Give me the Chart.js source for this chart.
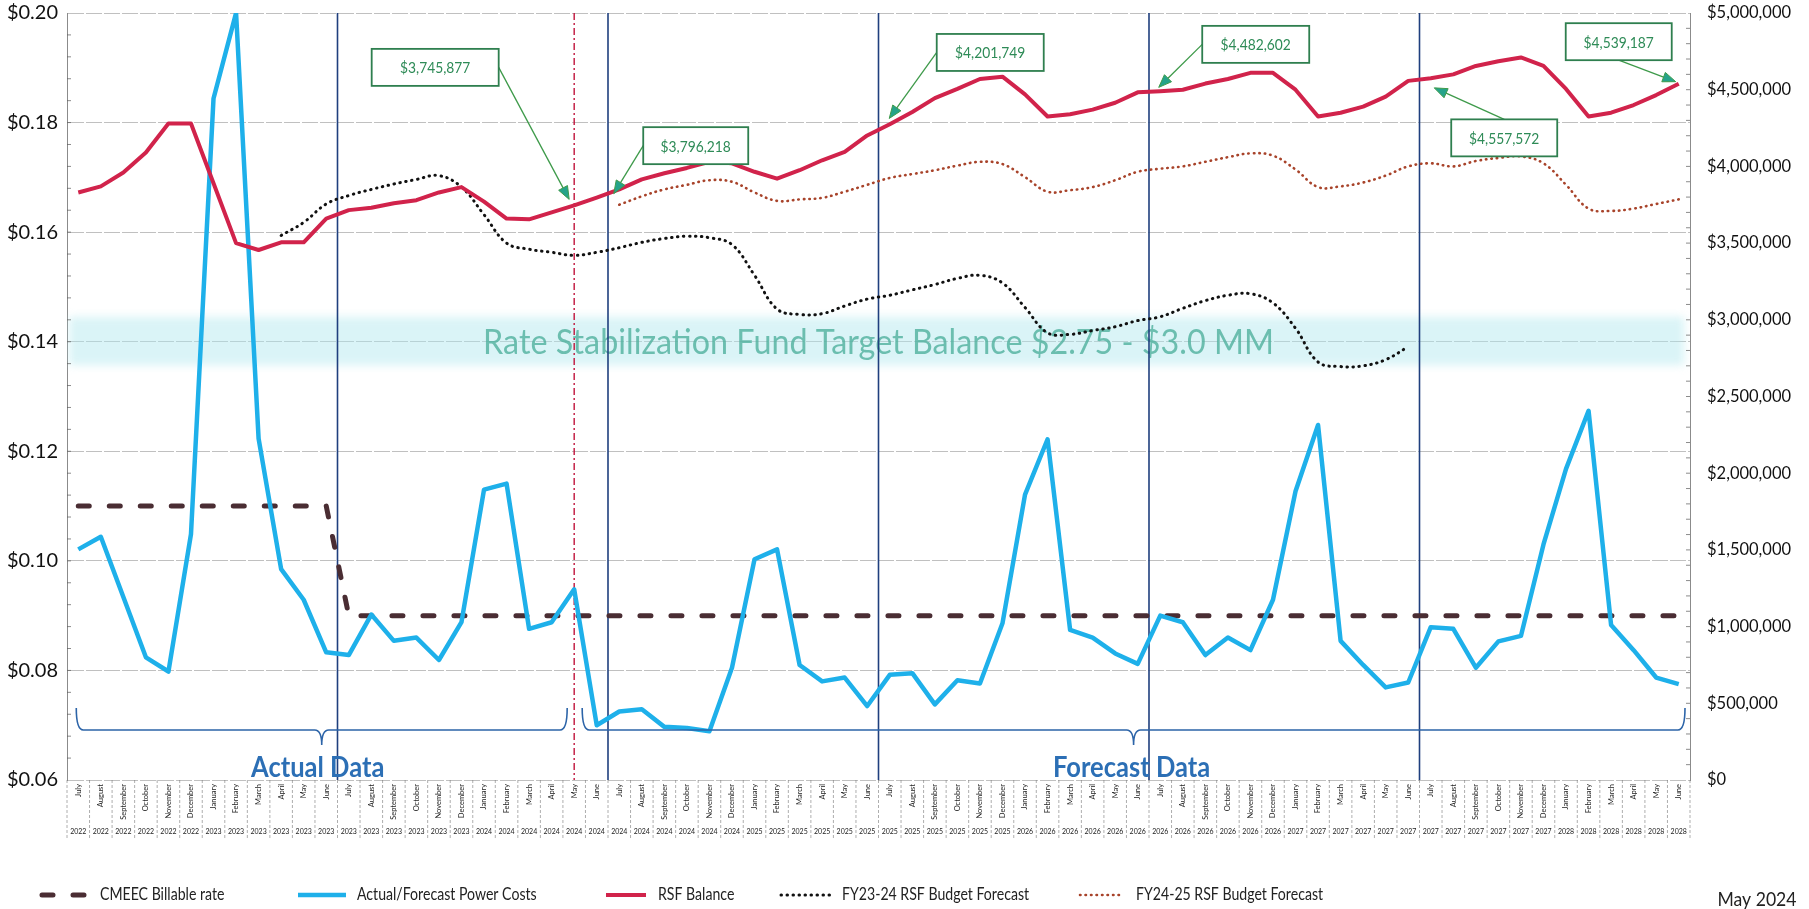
<!DOCTYPE html>
<html>
<head>
<meta charset="utf-8">
<title>Rate Stabilization Fund Balance</title>
<script src="https://cdn.jsdelivr.net/npm/chart.js@4.4.1/dist/chart.umd.min.js"></script>
<style>
  html, body { margin: 0; padding: 0; background: #ffffff; }
  #wrap { width: 1809px; height: 909px; position: relative; }
  canvas { display: block; }
</style>
</head>
<body>
<div id="wrap"><canvas id="chart" width="1809" height="909"></canvas></div>
<script>
// ---- Categories: fiscal-year months, July 2022 .. June 2028 ----
const monthLabels = [
  'July','August','September','October','November','December','January','February','March','April','May','June',
  'July','August','September','October','November','December','January','February','March','April','May','June',
  'July','August','September','October','November','December','January','February','March','April','May','June',
  'July','August','September','October','November','December','January','February','March','April','May','June',
  'July','August','September','October','November','December','January','February','March','April','May','June',
  'July','August','September','October','November','December','January','February','March','April','May','June'
];
const yearLabels = [
  '2022','2022','2022','2022','2022','2022','2023','2023','2023','2023','2023','2023',
  '2023','2023','2023','2023','2023','2023','2024','2024','2024','2024','2024','2024',
  '2024','2024','2024','2024','2024','2024','2025','2025','2025','2025','2025','2025',
  '2025','2025','2025','2025','2025','2025','2026','2026','2026','2026','2026','2026',
  '2026','2026','2026','2026','2026','2026','2027','2027','2027','2027','2027','2027',
  '2027','2027','2027','2027','2027','2027','2028','2028','2028','2028','2028','2028'
];

// ---- Series ($/kWh on the left axis) ----
const billableRate = [
  0.11,0.11,0.11,0.11,0.11,0.11,0.11,0.11,0.11,0.11,0.11,0.11,
  0.09,0.09,0.09,0.09,0.09,0.09,0.09,0.09,0.09,0.09,0.09,0.09,
  0.09,0.09,0.09,0.09,0.09,0.09,0.09,0.09,0.09,0.09,0.09,0.09,
  0.09,0.09,0.09,0.09,0.09,0.09,0.09,0.09,0.09,0.09,0.09,0.09,
  0.09,0.09,0.09,0.09,0.09,0.09,0.09,0.09,0.09,0.09,0.09,0.09,
  0.09,0.09,0.09,0.09,0.09,0.09,0.09,0.09,0.09,0.09,0.09,0.09
];
const powerCosts = [
  0.1021,0.1044,0.0934,0.0824,0.0798,0.1049,0.1844,0.2000,0.1223,0.0985,0.0929,0.0833,
  0.0828,0.0902,0.0854,0.0860,0.0819,0.0888,0.1130,0.1141,0.0876,0.0888,0.0948,0.0700,
  0.0725,0.0729,0.0697,0.0695,0.0689,0.0805,0.1003,0.1021,0.0810,0.0780,0.0787,0.0735,
  0.0792,0.0795,0.0738,0.0782,0.0776,0.0886,0.1121,0.1222,0.0874,0.0860,0.0831,0.0812,
  0.0900,0.0888,0.0828,0.0860,0.0837,0.0929,0.1127,0.1248,0.0854,0.0810,0.0769,0.0778,
  0.0879,0.0876,0.0805,0.0853,0.0863,0.1030,0.1168,0.1274,0.0883,0.0837,0.0787,0.0775
];

// ---- Series ($ on the right axis) ----
const rsfBalance = [
  3830000,3870000,3960000,4090000,4280000,4280000,3890000,3500000,3455000,3505000,3505000,3660000,
  3715000,3730000,3760000,3780000,3830000,3865000,3770000,3660000,3655000,3700000,3745877,3796218,
  3850000,3915000,3955000,3990000,4030000,4020000,3965000,3920000,3975000,4040000,4095000,4201749,
  4275000,4355000,4445000,4505000,4570000,4585000,4470000,4325000,4340000,4370000,4415000,4482602,
  4490000,4500000,4540000,4570000,4610000,4610000,4500000,4325000,4350000,4390000,4455000,4557572,
  4575000,4600000,4655000,4685000,4710000,4655000,4505000,4325000,4350000,4400000,4465000,4539187
];
const fy2324Forecast = [
  null,null,null,null,null,null,null,null,null,3550000,3635000,3755000,
  3810000,3850000,3885000,3915000,3940000,3865000,3685000,3500000,3460000,3440000,3420000,3440000,
  3470000,3505000,3530000,3545000,3535000,3490000,3290000,3070000,3035000,3040000,3090000,3135000,
  3160000,3195000,3230000,3270000,3290000,3240000,3080000,2915000,2905000,2930000,2955000,2995000,
  3020000,3075000,3125000,3160000,3170000,3110000,2945000,2725000,2695000,2700000,2740000,2825000,
  null,null,null,null,null,null,null,null,null,null,null,null
];
const fy2425Forecast = [
  null,null,null,null,null,null,null,null,null,null,null,null,
  null,null,null,null,null,null,null,null,null,null,null,null,
  3750000,3805000,3850000,3880000,3910000,3900000,3830000,3775000,3785000,3795000,3835000,3880000,
  3925000,3950000,3975000,4005000,4030000,4015000,3930000,3835000,3845000,3865000,3910000,3965000,
  3985000,4000000,4030000,4060000,4085000,4070000,3980000,3865000,3870000,3895000,3940000,4000000,
  4020000,4000000,4035000,4055000,4065000,4020000,3880000,3725000,3710000,3725000,3755000,3785000
];

// ---- Axis ticks ----
const rateTicks = [0.06, 0.08, 0.10, 0.12, 0.14, 0.16, 0.18, 0.20];
const balanceTicks = [0, 500000, 1000000, 1500000, 2000000, 2500000, 3000000, 3500000, 4000000, 4500000, 5000000];

// ---- Reference marks ----
const fiscalYearStarts = [12, 24, 36, 48, 60];   // first month (July) of each new fiscal year
const currentMonth = 22;                          // May 2024
const targetBand = [2750000, 3000000];            // RSF target balance range
const calloutMonths = [22, 23, 35, 47, 59, 71];   // RSF balances called out in boxes
const actualRange = [0, 22];
const forecastRange = [22, 71];
const reportDate = 'May 2024';

// ---- Styling ----
const FONT = 'Lato, "Open Sans", sans-serif';
Chart.defaults.font.family = FONT;

const colors = {
  rate: '#4a2d33', power: '#1eb0ea', rsf: '#d1234b', fy2324: '#111111', fy2425: '#a8432a',
  fyLine: '#1f3f7e', nowLine: '#c0143c', brace: '#2c64a8', braceText: '#2c6fb5',
  callBorder: '#2f7f4f', callText: '#2e8b57', arrow: '#3e9a4a', arrowHead: '#25a38a',
  grid: 'rgba(105,105,105,0.42)', axis: 'rgba(90,90,90,0.7)'
};

// box-centre / arrow-tip offsets from each called-out point (pixels)
const calloutLayout = {
  22: { box: [-139, -138], w: 127, from: 'right', tip: [-5, -6] },
  23: { box: [99, -52],    w: 105, from: 'left',  tip: [17, -4] },
  35: { box: [123, -83],   w: 107, from: 'left',  tip: [22, -17] },
  47: { box: [118, -48],   w: 107, from: 'left',  tip: [21, -5] },
  59: { box: [96, 57],     w: 106, from: 'top',   tip: [26, 7] },
  71: { box: [-60, -42],   w: 106, from: 'bottom', tip: [-3, -2] }
};

function squeezedText(ctx, str, x, y, font, align, squeeze, color) {
  ctx.save();
  ctx.font = font;
  ctx.fillStyle = color;
  ctx.textAlign = align;
  ctx.textBaseline = 'middle';
  ctx.translate(x, y);
  ctx.scale(squeeze, 1);
  ctx.fillText(str, 0, 0);
  ctx.restore();
}

function money(v) { return '$' + Math.round(v).toLocaleString('en-US'); }

// keep the plot area flush with the layout padding (no extra room for half tick labels)
function fixedWidth(w) {
  return s => { s.width = w; s.paddingTop = 0; s.paddingBottom = 0; };
}

// Target band + FY / current-month marker lines, underneath the series
const underlayPlugin = {
  id: 'underlay',
  beforeDatasetsDraw(chart) {
    const { ctx, chartArea: a, scales: { x, yR } } = chart;
    const top = yR.getPixelForValue(targetBand[1]);
    const bot = yR.getPixelForValue(targetBand[0]);
    ctx.save();
    ctx.beginPath(); ctx.rect(a.left, a.top, a.width, a.height); ctx.clip();
    ctx.filter = 'blur(4px)';
    ctx.fillStyle = 'rgba(172,230,238,0.45)';
    ctx.fillRect(a.left + 2, top - 3, a.width - 8, bot - top + 10);
    ctx.filter = 'blur(0.6px)';
    const label = 'Rate Stabilization Fund Target Balance $' + (targetBand[0] / 1e6).toFixed(2) +
                  ' - $' + (targetBand[1] / 1e6).toFixed(1) + ' MM';
    squeezedText(ctx, label, (a.left + a.right) / 2, (top + bot) / 2 + 4, '34px ' + FONT, 'center', 0.95, 'rgba(80,176,158,0.8)');
    ctx.filter = 'none';

    const half = (x.getPixelForValue(1) - x.getPixelForValue(0)) / 2;
    ctx.strokeStyle = colors.fyLine; ctx.lineWidth = 1.6;
    fiscalYearStarts.forEach(i => {
      const px = x.getPixelForValue(i) - half;
      ctx.beginPath(); ctx.moveTo(px, a.top); ctx.lineTo(px, a.bottom); ctx.stroke();
    });
    const nx = x.getPixelForValue(currentMonth);
    ctx.strokeStyle = colors.nowLine; ctx.lineWidth = 1.4; ctx.setLineDash([7, 3, 2, 3]);
    ctx.beginPath(); ctx.moveTo(nx, a.top); ctx.lineTo(nx, a.bottom); ctx.stroke();
    ctx.restore();
  }
};

function drawBrace(ctx, x0, x1, yLine, hook, tip) {
  const xt = (x0 + x1) / 2, r = 7;
  ctx.beginPath();
  ctx.moveTo(x0, yLine - hook);
  ctx.quadraticCurveTo(x0, yLine, x0 + r, yLine);
  ctx.lineTo(xt - r, yLine);
  ctx.quadraticCurveTo(xt, yLine, xt, yLine + tip);
  ctx.quadraticCurveTo(xt, yLine, xt + r, yLine);
  ctx.lineTo(x1 - r, yLine);
  ctx.quadraticCurveTo(x1, yLine, x1, yLine - hook);
  ctx.stroke();
}

// Braces with the "Actual Data" / "Forecast Data" captions, callouts
const overlayPlugin = {
  id: 'overlay',
  afterDatasetsDraw(chart) {
    const { ctx, chartArea: a, scales: { x, yR } } = chart;
    const yLine = a.bottom - 50;
    ctx.save();
    ctx.strokeStyle = colors.brace; ctx.lineWidth = 1.6;
    const b1 = [x.getPixelForValue(actualRange[0]) - 2, x.getPixelForValue(actualRange[1]) - 7];
    const b2 = [x.getPixelForValue(forecastRange[0]) + 8, a.right - 5];
    drawBrace(ctx, b1[0], b1[1], yLine, 22, 15);
    drawBrace(ctx, b2[0], b2[1], yLine, 22, 15);
    squeezedText(ctx, 'Actual Data', (b1[0] + b1[1]) / 2 - 4, a.bottom - 12, 'bold 29px ' + FONT, 'center', 0.88, colors.braceText);
    squeezedText(ctx, 'Forecast Data', (b2[0] + b2[1]) / 2 - 2, a.bottom - 12, 'bold 29px ' + FONT, 'center', 0.88, colors.braceText);

    // callouts
    calloutMonths.forEach(i => {
      const L = calloutLayout[i];
      const px = x.getPixelForValue(i), py = yR.getPixelForValue(rsfBalance[i]);
      const cx = px + L.box[0], cy = py + L.box[1], w = L.w, h = 37;
      let sx = cx, sy = cy;
      if (L.from === 'right') sx = cx + w / 2;
      if (L.from === 'left') sx = cx - w / 2;
      if (L.from === 'top') sy = cy - h / 2;
      if (L.from === 'bottom') sy = cy + h / 2;
      const tx = px + L.tip[0], ty = py + L.tip[1];
      const ang = Math.atan2(ty - sy, tx - sx), hl = 13, hw = 5;
      ctx.strokeStyle = colors.arrow; ctx.lineWidth = 1.3;
      ctx.beginPath(); ctx.moveTo(sx, sy);
      ctx.lineTo(tx - Math.cos(ang) * hl, ty - Math.sin(ang) * hl); ctx.stroke();
      ctx.fillStyle = colors.arrowHead;
      ctx.beginPath();
      ctx.moveTo(tx, ty);
      ctx.lineTo(tx - Math.cos(ang) * hl - Math.sin(ang) * hw, ty - Math.sin(ang) * hl + Math.cos(ang) * hw);
      ctx.lineTo(tx - Math.cos(ang) * hl + Math.sin(ang) * hw, ty - Math.sin(ang) * hl - Math.cos(ang) * hw);
      ctx.closePath(); ctx.fill();
      ctx.strokeStyle = colors.arrow; ctx.lineWidth = 1; ctx.stroke();

      ctx.fillStyle = '#ffffff';
      ctx.fillRect(cx - w / 2, cy - h / 2, w, h);
      ctx.strokeStyle = colors.callBorder; ctx.lineWidth = 1.8;
      ctx.strokeRect(cx - w / 2, cy - h / 2, w, h);
      squeezedText(ctx, money(rsfBalance[i]), cx, cy + 1, '15px ' + FONT, 'center', 0.92, colors.callText);
    });
    ctx.restore();
  },

  afterDraw(chart) {
    const { ctx, chartArea: a, scales: { x, y, yR } } = chart;
    ctx.save();
    // minor tick marks on both value axes
    ctx.strokeStyle = colors.axis; ctx.lineWidth = 1;
    for (let k = 1; k < 35; k++) {
      const v = 0.06 + k * 0.004;
      const py = y.getPixelForValue(v);
      ctx.beginPath(); ctx.moveTo(a.left, py); ctx.lineTo(a.left + 4, py); ctx.stroke();
    }
    for (let k = 1; k < 50; k++) {
      const py = yR.getPixelForValue(k * 100000);
      ctx.beginPath(); ctx.moveTo(a.right - 4, py); ctx.lineTo(a.right, py); ctx.stroke();
    }

    // month / year label table under the plot
    const n = monthLabels.length;
    const half = (x.getPixelForValue(1) - x.getPixelForValue(0)) / 2;
    ctx.strokeStyle = 'rgba(120,120,120,0.6)'; ctx.setLineDash([3, 2]);
    for (let i = 0; i <= n; i++) {
      const px = i < n ? x.getPixelForValue(i) - half : x.getPixelForValue(n - 1) + half;
      ctx.beginPath(); ctx.moveTo(px, a.bottom); ctx.lineTo(px, a.bottom + 58); ctx.stroke();
    }
    ctx.setLineDash([]);
    ctx.fillStyle = '#222';
    for (let i = 0; i < n; i++) {
      const px = x.getPixelForValue(i);
      ctx.save();
      ctx.translate(px, a.bottom + 4);
      ctx.rotate(-Math.PI / 2);
      ctx.font = '7.5px ' + FONT;
      ctx.textAlign = 'right'; ctx.textBaseline = 'middle';
      ctx.fillText(monthLabels[i], 0, 0);
      ctx.restore();
      ctx.font = '7px ' + FONT;
      ctx.textAlign = 'center'; ctx.textBaseline = 'middle';
      ctx.fillText(yearLabels[i], px, a.bottom + 52);
    }

    // legend
    const ly = 895;
    const ds = chart.data.datasets;
    const items = [
      { d: ds[0], x0: 42, x1: 86, tx: 100 },
      { d: ds[1], x0: 298, x1: 346, tx: 357 },
      { d: ds[2], x0: 606, x1: 646, tx: 658 },
      { d: ds[3], x0: 781, x1: 831, tx: 842 },
      { d: ds[4], x0: 1080, x1: 1124, tx: 1136 }
    ];
    items.forEach(it => {
      ctx.save();
      ctx.strokeStyle = it.d.borderColor;
      ctx.lineWidth = it.d.borderWidth;
      ctx.lineCap = it.d.borderCapStyle || 'butt';
      ctx.setLineDash(it.d.borderDash || []);
      ctx.beginPath(); ctx.moveTo(it.x0, ly); ctx.lineTo(it.x1, ly); ctx.stroke();
      ctx.restore();
      squeezedText(ctx, it.d.label, it.tx, ly, '17px ' + FONT, 'left', 0.83, '#222');
    });
    squeezedText(ctx, reportDate, 1757, 900, '20px ' + FONT, 'center', 0.88, '#222');
    ctx.restore();
  }
};

new Chart(document.getElementById('chart'), {
  type: 'line',
  data: {
    labels: monthLabels.map((m, i) => m + ' ' + yearLabels[i]),
    datasets: [
      { label: 'CMEEC Billable rate', data: billableRate, yAxisID: 'y', borderColor: colors.rate,
        borderWidth: 5, borderDash: [11, 20], borderCapStyle: 'round', pointRadius: 0, tension: 0, order: 2 },
      { label: 'Actual/Forecast Power Costs', data: powerCosts, yAxisID: 'y', borderColor: colors.power,
        borderWidth: 4.5, borderJoinStyle: 'round', pointRadius: 0, tension: 0, order: 1 },
      { label: 'RSF Balance', data: rsfBalance, yAxisID: 'yR', borderColor: colors.rsf,
        borderWidth: 4, borderJoinStyle: 'round', pointRadius: 0, tension: 0, order: 0 },
      { label: 'FY23-24 RSF Budget Forecast', data: fy2324Forecast, yAxisID: 'yR', borderColor: colors.fy2324,
        borderWidth: 3, borderDash: [0.5, 5.5], borderCapStyle: 'round', pointRadius: 0, tension: 0.4, order: 3 },
      { label: 'FY24-25 RSF Budget Forecast', data: fy2425Forecast, yAxisID: 'yR', borderColor: colors.fy2425,
        borderWidth: 2.6, borderDash: [0.5, 5], borderCapStyle: 'round', pointRadius: 0, tension: 0.4, order: 4 }
    ]
  },
  options: {
    responsive: false,
    animation: false,
    layout: { padding: { top: 13, left: 0, right: 0, bottom: 0 } },
    plugins: { legend: { display: false }, tooltip: { enabled: false } },
    scales: {
      x: {
        type: 'category', offset: true,
        grid: { display: false, drawTicks: false },
        border: { display: false },
        ticks: { display: false },
        afterFit: s => { s.height = 129; }
      },
      y: {
        position: 'left', min: 0.06, max: 0.20,
        afterBuildTicks: s => { s.ticks = rateTicks.map(v => ({ value: v })); },
        ticks: { callback: v => '$' + Number(v).toFixed(2), color: '#111', font: { size: 20 }, padding: 9 },
        grid: { color: colors.grid, lineWidth: 1, drawTicks: false },
        border: { display: true, color: colors.axis, width: 1, dash: [16, 2] },
        afterFit: fixedWidth(67)
      },
      yR: {
        position: 'right', min: 0, max: 5000000,
        afterBuildTicks: s => { s.ticks = balanceTicks.map(v => ({ value: v })); },
        ticks: { callback: v => money(v), color: '#111', font: { size: 16.5 }, padding: 17 },
        grid: { drawOnChartArea: false, drawTicks: false },
        border: { display: true, color: colors.axis, width: 1, dash: [16, 2] },
        afterFit: fixedWidth(119)
      }
    }
  },
  plugins: [underlayPlugin, overlayPlugin]
});
</script>
</body>
</html>
